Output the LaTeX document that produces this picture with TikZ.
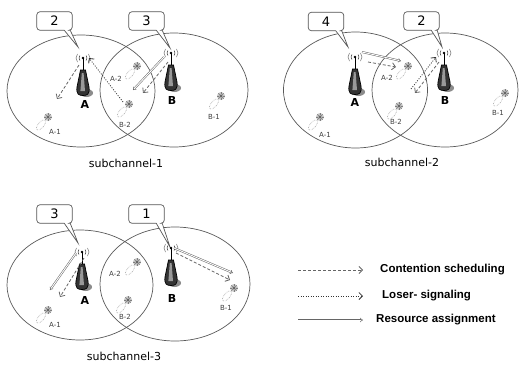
\documentclass[tikz,border=0pt]{standalone}
\usepackage{fontspec}
\setmainfont{DejaVu Sans}
\newfontfamily\legendfont{Liberation Sans}
\usetikzlibrary{arrows.meta}
\tikzset{
  cell/.style={draw=black!65, line width=0.7pt},
  bslabel/.style={font=\bfseries\fontsize{11}{11}\selectfont, inner sep=0pt},
  uelabel/.style={font=\fontsize{7}{7}\selectfont, text=black!75, inner sep=0pt},
  title/.style={font=\fontsize{11}{11}\selectfont, inner sep=0pt},
  cnum/.style={font=\fontsize{13}{13}\selectfont, minimum width=35pt, minimum height=18pt, inner sep=0pt},
  cbox/.style={draw=black!65, fill=white, line width=0.7pt},
  cshadow/.style={fill=black!25},
  contention/.style={draw=black!60, line width=0.8pt, dash pattern=on 3pt off 2pt, -{Straight Barb[length=3.5pt,width=7pt]}},
  loser/.style={draw=black!80, line width=0.8pt, dash pattern=on 1pt off 1.5pt, -{Straight Barb[length=3.5pt,width=7pt]}},
  resource/.style={draw=black!60, double=white, double distance=0.9pt, line width=0.5pt, -{Implies}},
  legendtext/.style={font=\legendfont\bfseries\fontsize{11.5}{11.5}\selectfont, anchor=west, inner sep=0pt},
  tower/.pic={
    \draw[black!80, line width=0.5pt] (-3,-2.5) .. controls (-4.3,-1) and (-4.3,1) .. (-3,2.5);
    \draw[black!80, line width=0.5pt] (3,-2.5) .. controls (4.3,-1) and (4.3,1) .. (3,2.5);
    \draw[black!60, line width=0.5pt] (-5.5,-4) .. controls (-7.5,-1.5) and (-7.5,1.5) .. (-5.5,4);
    \draw[black!60, line width=0.5pt] (5.5,-4) .. controls (7.5,-1.5) and (7.5,1.5) .. (5.5,4);
    \fill[black!45] (3.5,35) ellipse [x radius=6.5, y radius=4];
    \draw[black, line width=0.9pt] (0,0) -- (0,13);
    \filldraw[fill=black!80, draw=black, line width=0.7pt] (-2.5,12) -- (2.5,12) -- (6,29) .. controls (7,36.5) and (4,37.5) .. (0,37.5) .. controls (-4,37.5) and (-7,36.5) .. (-6,29) -- cycle;
    \fill[black!40] (-1.2,15) -- (0.6,15) -- (2,33) -- (-2.6,33) -- cycle;
    \fill[black] (0,0) circle (1.4);
  },
  ue/.pic={
    \begin{scope}[shift={(-7,8)}, rotate=-40]
      \draw[black!35, densely dotted, line width=0.6pt] (0,0) ellipse [x radius=2.8, y radius=6.5];
    \end{scope}
    \fill[black!22] (0,0) circle (4);
    \foreach \a in {0,45,...,315} \draw[black!50, line width=0.5pt] (\a:1.6) -- (\a:3.8);
    \fill[black!60] (0,0) circle (1.6);
  }
}
% name, x, y, text, tipx, tipy
\newcommand\mycallout[6]{%
  \node[cnum] (#1) at (#2,#3) {};
  \coordinate (#1tip) at (#5,#6);
  \fill[cshadow, xshift=1.5pt, yshift=-1.5pt] ([xshift=-2pt]#1.south east) -- (#1tip) -- ([xshift=-8pt]#1.south east) {[rounded corners=3pt] -- (#1.south west) -- (#1.north west) -- (#1.north east) -- (#1.south east)} -- cycle;
  \filldraw[cbox] ([xshift=-2pt]#1.south east) -- (#1tip) -- ([xshift=-8pt]#1.south east) {[rounded corners=3pt] -- (#1.south west) -- (#1.north west) -- (#1.north east) -- (#1.south east)} -- cycle;
  \node[cnum] (#1num) at (#1) {#4};
}
\begin{document}
\begin{tikzpicture}[x=1pt, y=-1pt]
\useasboundingbox (0,0) rectangle (522,367);

% ---------------- Panel 1 ----------------
\draw[cell] (81,91) ellipse [x radius=74, y radius=56];
\draw[cell] (174,90) ellipse [x radius=74, y radius=57];
\mycallout{p1ca}{54.5}{21}{2}{78}{47}
\mycallout{p1cb}{146.5}{21}{3}{170}{48}
\pic at (83,58) {tower};
\pic at (171,53) {tower};
\node[bslabel] (p1A) at (85,104) {A};
\node[bslabel] (p1B) at (172,100) {B};
\pic at (48,117) {ue};
\pic at (137,66) {ue};
\pic at (129,104) {ue};
\pic at (221,96) {ue};
\node[uelabel] (p1a1) at (55,132) {A-1};
\node[uelabel] (p1a2) at (116,79) {A-2};
\node[uelabel] (p1b2) at (125,125) {B-2};
\node[uelabel] (p1b1) at (214,117) {B-1};
\coordinate (p1s1) at (79,65);  \coordinate (p1e1) at (57,99);
\coordinate (p1s2) at (123,102); \coordinate (p1e2) at (89,58);
\coordinate (p1s3) at (164,57); \coordinate (p1e3) at (133,90);
\coordinate (p1s4) at (168,62); \coordinate (p1e4) at (143,93);
\draw[contention] (p1s1) -- (p1e1);
\draw[loser] (p1s2) -- (p1e2);
\draw[resource] (p1s3) -- (p1e3);
\draw[contention] (p1s4) -- (p1e4);
\node[title] (t1) at (126,163) {subchannel-1};

% ---------------- Panel 2 ----------------
\draw[cell] (355.5,90) ellipse [x radius=72, y radius=58];
\draw[cell] (445,90) ellipse [x radius=73, y radius=57];
\mycallout{p2ca}{326}{21.5}{4}{348}{47}
\mycallout{p2cb}{421.5}{21}{2}{442}{47}
\pic at (355,57) {tower};
\pic at (444,53) {tower};
\node[bslabel] (p2A) at (355,102) {A};
\node[bslabel] (p2B) at (445,100) {B};
\pic at (320,117) {ue};
\pic at (408,66) {ue};
\pic at (399,106) {ue};
\pic at (505,93) {ue};
\node[uelabel] (p2a1) at (325,135) {A-1};
\node[uelabel] (p2a2) at (387,78) {A-2};
\node[uelabel] (p2b2) at (396,122) {B-2};
\node[uelabel] (p2b1) at (498,113) {B-1};
\coordinate (p2s1) at (362,52);  \coordinate (p2e1) at (401,61);
\coordinate (p2s2) at (368,62);  \coordinate (p2e2) at (396,67);
\coordinate (p2s3) at (411,89);  \coordinate (p2e3) at (436,57);
\coordinate (p2s4) at (439,62);  \coordinate (p2e4) at (415,93);
\draw[resource] (p2s1) -- (p2e1);
\draw[contention] (p2s2) -- (p2e2);
\draw[loser] (p2s3) -- (p2e3);
\draw[contention] (p2s4) -- (p2e4);
\node[title] (t2) at (402,162) {subchannel-2};

% ---------------- Panel 3 ----------------
\draw[cell] (80,285) ellipse [x radius=73, y radius=55];
\draw[cell] (175,284) ellipse [x radius=75, y radius=57];
\mycallout{p3ca}{54.5}{214}{3}{78}{243}
\mycallout{p3cb}{146.5}{214}{1}{170}{247}
\pic at (82,252) {tower};
\pic at (171,248) {tower};
\node[bslabel] (p3A) at (85,300) {A};
\node[bslabel] (p3B) at (172,298) {B};
\pic at (48,310) {ue};
\pic at (137,262) {ue};
\pic at (128,300) {ue};
\pic at (234,288) {ue};
\node[uelabel] (p3a1) at (55,325) {A-1};
\node[uelabel] (p3a2) at (115,274) {A-2};
\node[uelabel] (p3b2) at (125,317) {B-2};
\node[uelabel] (p3b1) at (226,308) {B-1};
\coordinate (p3s1) at (76,253);  \coordinate (p3e1) at (50,290);
\coordinate (p3s2) at (84,258);  \coordinate (p3e2) at (60,297);
\coordinate (p3s3) at (174,248); \coordinate (p3e3) at (233,273);
\coordinate (p3s4) at (176,253); \coordinate (p3e4) at (230,280);
\draw[resource] (p3s1) -- (p3e1);
\draw[contention] (p3s2) -- (p3e2);
\draw[resource] (p3s3) -- (p3e3);
\draw[contention] (p3s4) -- (p3e4);
\node[title] (t3) at (124,356) {subchannel-3};

% ---------------- Legend ----------------
\coordinate (l1a) at (298,270); \coordinate (l1b) at (363,270);
\coordinate (l2a) at (298,296); \coordinate (l2b) at (363,296);
\coordinate (l3a) at (298,320); \coordinate (l3b) at (363,320);
\draw[contention] (l1a) -- (l1b);
\draw[loser] (l2a) -- (l2b);
\draw[resource] (l3a) -- (l3b);
\node[legendtext] (l1t) at (380,270) {Contention scheduling};
\node[legendtext] (l2t) at (382,296) {Loser- signaling};
\node[legendtext] (l3t) at (376,320) {Resource assignment};
\end{tikzpicture}
\end{document}
